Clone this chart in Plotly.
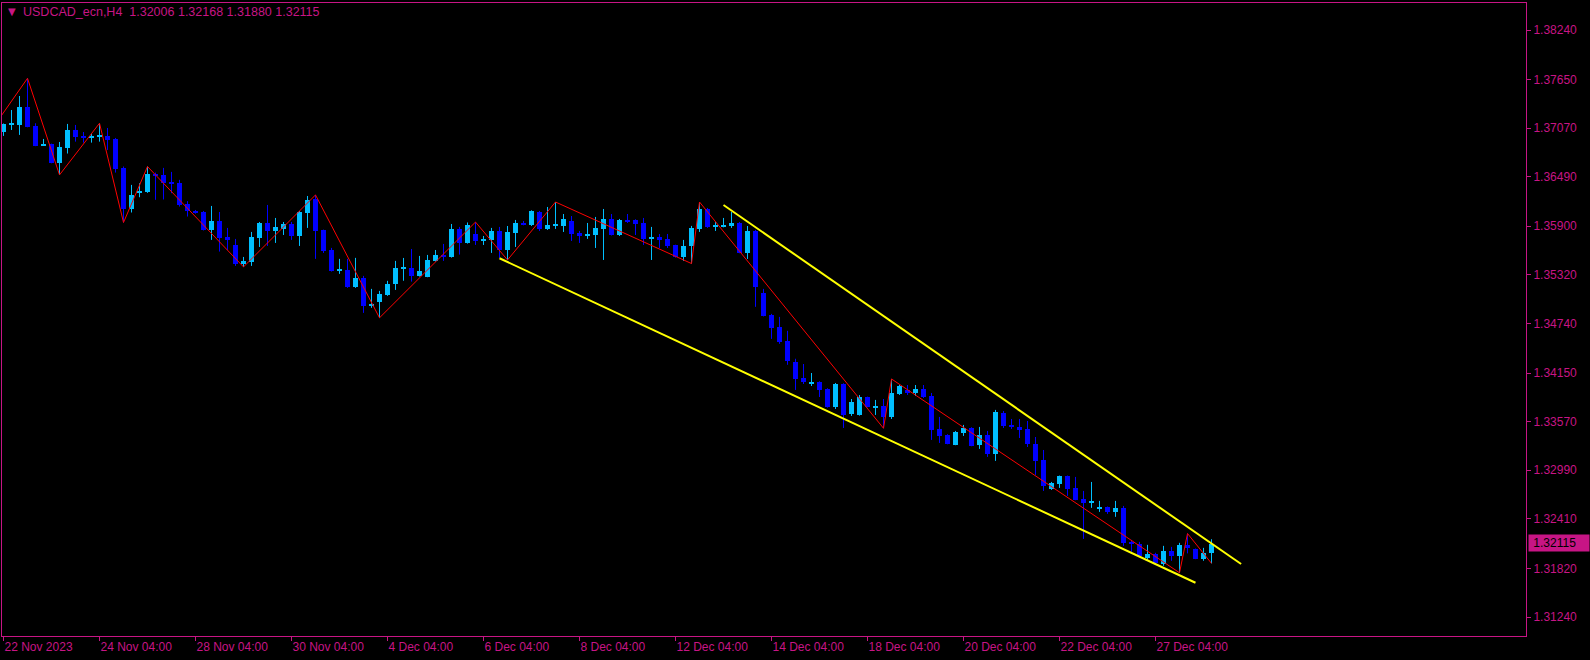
import plotly.graph_objects as go

# ---------------- data ----------------
symbol = "USDCAD_ecn,H4"
last_price = 1.32115

opens = [1.37028, 1.37120, 1.37108, 1.37322, 1.37096, 1.36862, 1.36882, 1.36659, 1.36838, 1.37048,
         1.36977, 1.36957, 1.36965, 1.36977, 1.36941, 1.36596, 1.36100, 1.36302, 1.36310, 1.36528,
         1.36512, 1.36429, 1.36417, 1.36167, 1.36082, 1.36070, 1.35856, 1.35963, 1.35773, 1.35677,
         1.35451, 1.35475, 1.35761, 1.35939, 1.35844, 1.35868, 1.35927, 1.35784, 1.36058, 1.36225,
         1.35856, 1.35618, 1.35372, 1.35380, 1.35177, 1.35284, 1.34955, 1.34998, 1.35082, 1.35213,
         1.35395, 1.35403, 1.35308, 1.35300, 1.35487, 1.35558, 1.35538, 1.35868, 1.35705, 1.35808,
         1.35733, 1.35737, 1.35844, 1.35618, 1.35820, 1.35939, 1.35915, 1.36070, 1.35868, 1.35911,
         1.35903, 1.35963, 1.35820, 1.35792, 1.35796, 1.35868, 1.35987, 1.35796, 1.35975, 1.35975,
         1.35939, 1.35757, 1.35772, 1.35749, 1.35677, 1.35534, 1.35665, 1.35868, 1.36106, 1.35892,
         1.35892, 1.35903, 1.35939, 1.35582, 1.35844, 1.35105, 1.34843, 1.34700, 1.34534, 1.34285,
         1.34091, 1.34019, 1.34043, 1.33960, 1.33745, 1.34019, 1.33662, 1.33650, 1.33864, 1.33741,
         1.33757, 1.33626, 1.33900, 1.33948, 1.33912, 1.33960, 1.33876, 1.33483, 1.33412, 1.33293,
         1.33435, 1.33495, 1.33293, 1.33412, 1.33186, 1.33673, 1.33530, 1.33506, 1.33483, 1.33304,
         1.33113, 1.32768, 1.32828, 1.32923, 1.32780, 1.32649, 1.32605, 1.32530, 1.32554, 1.32494,
         1.32542, 1.32137, 1.32113, 1.31946, 1.31994, 1.31875, 1.32030, 1.31970, 1.32101, 1.32053,
         1.31934, 1.32006]
highs = [1.37125, 1.37286, 1.37453, 1.37664, 1.37128, 1.36941, 1.36885, 1.36905, 1.37120, 1.37108,
         1.37024, 1.37001, 1.37128, 1.37072, 1.36953, 1.36612, 1.36393, 1.36413, 1.36612, 1.36540,
         1.36596, 1.36548, 1.36453, 1.36199, 1.36094, 1.36082, 1.36142, 1.36070, 1.35880, 1.35749,
         1.35534, 1.35832, 1.35951, 1.36154, 1.35999, 1.35951, 1.35951, 1.36082, 1.36261, 1.36273,
         1.35860, 1.35642, 1.35511, 1.35511, 1.35523, 1.35308, 1.35153, 1.35129, 1.35249, 1.35487,
         1.35522, 1.35629, 1.35546, 1.35558, 1.35617, 1.35689, 1.35927, 1.35892, 1.35945, 1.35950,
         1.35784, 1.35880, 1.35892, 1.35903, 1.35975, 1.35963, 1.36090, 1.36082, 1.36130, 1.36189,
         1.36046, 1.36022, 1.35844, 1.35939, 1.36011, 1.36106, 1.36046, 1.35987, 1.36046, 1.35983,
         1.35999, 1.35892, 1.35808, 1.35808, 1.35680, 1.35737, 1.35904, 1.36189, 1.36118, 1.35951,
         1.35999, 1.36070, 1.35951, 1.35903, 1.35856, 1.35153, 1.34855, 1.34819, 1.34653, 1.34320,
         1.34257, 1.34150, 1.34051, 1.33968, 1.34031, 1.34027, 1.33840, 1.33888, 1.33868, 1.33829,
         1.33840, 1.34079, 1.34007, 1.34007, 1.34007, 1.34007, 1.33912, 1.33626, 1.33420, 1.33459,
         1.33531, 1.33503, 1.33507, 1.33459, 1.33710, 1.33697, 1.33602, 1.33602, 1.33578, 1.33387,
         1.33232, 1.32851, 1.32927, 1.32927, 1.32911, 1.32744, 1.32851, 1.32625, 1.32558, 1.32625,
         1.32565, 1.32160, 1.32137, 1.32101, 1.32006, 1.32089, 1.32077, 1.32125, 1.32236, 1.32057,
         1.32065, 1.32168]
lows = [1.36977, 1.37048, 1.36989, 1.37080, 1.36855, 1.36858, 1.36651, 1.36512, 1.36767, 1.36909,
        1.36897, 1.36897, 1.36909, 1.36810, 1.36540, 1.35945, 1.36064, 1.36246, 1.36298, 1.36215,
        1.36219, 1.36294, 1.36135, 1.36016, 1.36050, 1.35850, 1.35737, 1.35598, 1.35618, 1.35427,
        1.35415, 1.35427, 1.35653, 1.35665, 1.35701, 1.35796, 1.35737, 1.35665, 1.35880, 1.35511,
        1.35582, 1.35360, 1.35332, 1.35165, 1.35165, 1.34867, 1.34927, 1.34808, 1.35070, 1.35141,
        1.35250, 1.35240, 1.35300, 1.35292, 1.35479, 1.35487, 1.35526, 1.35562, 1.35693, 1.35677,
        1.35677, 1.35582, 1.35522, 1.35498, 1.35653, 1.35911, 1.35903, 1.35844, 1.35856, 1.35868,
        1.35832, 1.35725, 1.35701, 1.35749, 1.35641, 1.35498, 1.35790, 1.35784, 1.35939, 1.35796,
        1.35677, 1.35498, 1.35641, 1.35641, 1.35526, 1.35487, 1.35455, 1.35832, 1.35880, 1.35844,
        1.35887, 1.35880, 1.35578, 1.35510, 1.34939, 1.34825, 1.34557, 1.34498, 1.34248, 1.33948,
        1.34019, 1.33995, 1.33864, 1.33737, 1.33721, 1.33495, 1.33638, 1.33642, 1.33741, 1.33650,
        1.33491, 1.33602, 1.33888, 1.33888, 1.33876, 1.33852, 1.33352, 1.33316, 1.33300, 1.33289,
        1.33400, 1.33277, 1.33245, 1.33150, 1.33102, 1.33494, 1.33483, 1.33375, 1.33268, 1.32935,
        1.32744, 1.32756, 1.32780, 1.32685, 1.32633, 1.32172, 1.32542, 1.32494, 1.32470, 1.32435,
        1.32089, 1.32018, 1.31958, 1.31922, 1.31863, 1.31851, 1.31911, 1.31768, 1.31999, 1.31930,
        1.31911, 1.31880]
closes = [1.37120, 1.37125, 1.37322, 1.37088, 1.36862, 1.36882, 1.36659, 1.36846, 1.37048, 1.36965,
          1.36957, 1.36977, 1.36977, 1.36929, 1.36584, 1.36100, 1.36274, 1.36322, 1.36524, 1.36504,
          1.36417, 1.36409, 1.36159, 1.36076, 1.36058, 1.35856, 1.35963, 1.35761, 1.35737, 1.35451,
          1.35487, 1.35773, 1.35939, 1.35844, 1.35892, 1.35927, 1.35784, 1.36070, 1.36213, 1.35844,
          1.35606, 1.35368, 1.35380, 1.35177, 1.35284, 1.34951, 1.34967, 1.35094, 1.35213, 1.35403,
          1.35403, 1.35308, 1.35367, 1.35498, 1.35558, 1.35538, 1.35868, 1.35705, 1.35915, 1.35725,
          1.35741, 1.35844, 1.35618, 1.35832, 1.35939, 1.35915, 1.36082, 1.35868, 1.35915, 1.35919,
          1.35987, 1.35808, 1.35788, 1.35800, 1.35880, 1.35987, 1.35796, 1.35975, 1.35951, 1.35927,
          1.35749, 1.35768, 1.35737, 1.35665, 1.35534, 1.35665, 1.35880, 1.36106, 1.35892, 1.35904,
          1.35915, 1.35939, 1.35582, 1.35844, 1.35177, 1.34831, 1.34689, 1.34522, 1.34295, 1.34079,
          1.34043, 1.34043, 1.33948, 1.33745, 1.34019, 1.33650, 1.33805, 1.33864, 1.33745, 1.33749,
          1.33626, 1.33912, 1.33995, 1.33912, 1.33960, 1.33864, 1.33471, 1.33400, 1.33304, 1.33447,
          1.33495, 1.33281, 1.33412, 1.33186, 1.33686, 1.33518, 1.33506, 1.33471, 1.33304, 1.33102,
          1.32804, 1.32840, 1.32923, 1.32768, 1.32637, 1.32601, 1.32621, 1.32554, 1.32494, 1.32542,
          1.32125, 1.32113, 1.31970, 1.31994, 1.31887, 1.32030, 1.31970, 1.32101, 1.32065, 1.31934,
          1.32006, 1.32115]
bar_index = list(range(len(opens)))

tick_bars = [0, 12, 24, 36, 48, 60, 72, 84, 96, 108, 120, 132, 144]
tick_labels = ["22 Nov 2023", "24 Nov 04:00", "28 Nov 04:00", "30 Nov 04:00", "4 Dec 04:00",
               "6 Dec 04:00", "8 Dec 04:00", "12 Dec 04:00", "14 Dec 04:00", "18 Dec 04:00",
               "20 Dec 04:00", "22 Dec 04:00", "27 Dec 04:00"]
price_ticks = [1.38240, 1.37650, 1.37070, 1.36490, 1.35900, 1.35320, 1.34740,
               1.34150, 1.33570, 1.32990, 1.32410, 1.31820, 1.31240]

zigzag_bars = [-1, 3, 7, 12, 15, 18, 30, 39, 47, 59, 63, 69, 86, 87, 110, 111, 147, 148, 151]
zigzag_prices = [1.37119, 1.37664, 1.36512, 1.37128, 1.35945, 1.36612, 1.35415, 1.36273, 1.34808,
                 1.35950, 1.35498, 1.36189, 1.35455, 1.36189, 1.33491, 1.34079, 1.31768, 1.32236, 1.31880]

lower_trend_bars = [62.0, 149.0]
lower_trend_prices = [1.35518, 1.31649]
upper_trend_bars = [90.0, 154.7]
upper_trend_prices = [1.36153, 1.31872]

# ---------------- style ----------------
MAG = "#C71585"
BULL = "#00BFFF"
BEAR = "#0000FF"
FONT = "Liberation Sans"
MIN_BODY = 0.00012

fig = go.Figure()

for is_bull, col in ((True, BULL), (False, BEAR)):
    xs, bases, heights, wx, wy = [], [], [], [], []
    for i, o, h, l, c in zip(bar_index, opens, highs, lows, closes):
        if (c >= o) != is_bull:
            continue
        lo_b, hi_b = min(o, c), max(o, c)
        hgt = hi_b - lo_b
        if hgt < MIN_BODY:
            mid = (lo_b + hi_b) / 2
            lo_b = mid - MIN_BODY / 2
            hgt = MIN_BODY
        xs.append(i)
        bases.append(lo_b)
        heights.append(hgt)
        wx += [i, i, None]
        wy += [l, h, None]
    fig.add_trace(go.Scatter(x=wx, y=wy, mode="lines", line=dict(color=col, width=1),
                             hoverinfo="skip"))
    fig.add_trace(go.Bar(x=xs, y=heights, base=bases, width=0.625,
                         marker=dict(color=col, line=dict(width=0))))

fig.add_trace(go.Scatter(x=zigzag_bars, y=zigzag_prices, mode="lines",
                         line=dict(color="#FF0000", width=1)))
fig.add_trace(go.Scatter(x=lower_trend_bars, y=lower_trend_prices, mode="lines",
                         line=dict(color="#FFFF00", width=2)))
fig.add_trace(go.Scatter(x=upper_trend_bars, y=upper_trend_prices, mode="lines",
                         line=dict(color="#FFFF00", width=2)))

title_text = "%s  %.5f %.5f %.5f %.5f" % (symbol, opens[-1], highs[-1], lows[-1], closes[-1])

fig.add_annotation(xref="paper", yref="paper", x=0, y=1, xanchor="left", yanchor="top",
                   xshift=4, yshift=-1, text="▼", showarrow=False,
                   font=dict(family="DejaVu Sans", size=10, color=MAG))
fig.add_annotation(xref="paper", yref="paper", x=0, y=1, xanchor="left", yanchor="top",
                   xshift=19, yshift=0, text=title_text, showarrow=False,
                   font=dict(family=FONT, size=12.5, color=MAG))
fig.add_annotation(xref="paper", yref="y", x=1, y=last_price, xanchor="left", yanchor="middle",
                   xshift=2, yshift=1, text="&nbsp;%.5f" % last_price, showarrow=False,
                   bgcolor=MAG, borderpad=1, width=58, align="left",
                   font=dict(family=FONT, size=12, color="#000000"))

fig.update_layout(
    width=1590, height=660,
    margin=dict(l=2, r=64, t=3, b=24),
    paper_bgcolor="#000000", plot_bgcolor="#000000",
    showlegend=False, barmode="overlay", bargap=0,
    xaxis=dict(range=[-0.1875, 190.3125], tickmode="array", tickvals=tick_bars, ticktext=tick_labels,
               ticks="outside", ticklen=4, tickcolor=MAG, showgrid=False, zeroline=False,
               showline=True, linecolor=MAG, linewidth=1, mirror=True,
               ticklabelposition="outside right",
               tickfont=dict(family=FONT, size=12, color=MAG), fixedrange=True),
    yaxis=dict(side="right", range=[1.31014, 1.38562], tickmode="array", tickvals=price_ticks,
               ticktext=["%.5f" % v for v in price_ticks], ticks="outside", ticklen=4, tickcolor=MAG,
               showgrid=False, zeroline=False, showline=True, linecolor=MAG, linewidth=1, mirror=True,
               tickfont=dict(family=FONT, size=12, color=MAG), fixedrange=True),
)

fig.write_html("out.html", config={"displayModeBar": False},
               post_script="document.body.style.margin='0';document.body.style.background='#000';")
